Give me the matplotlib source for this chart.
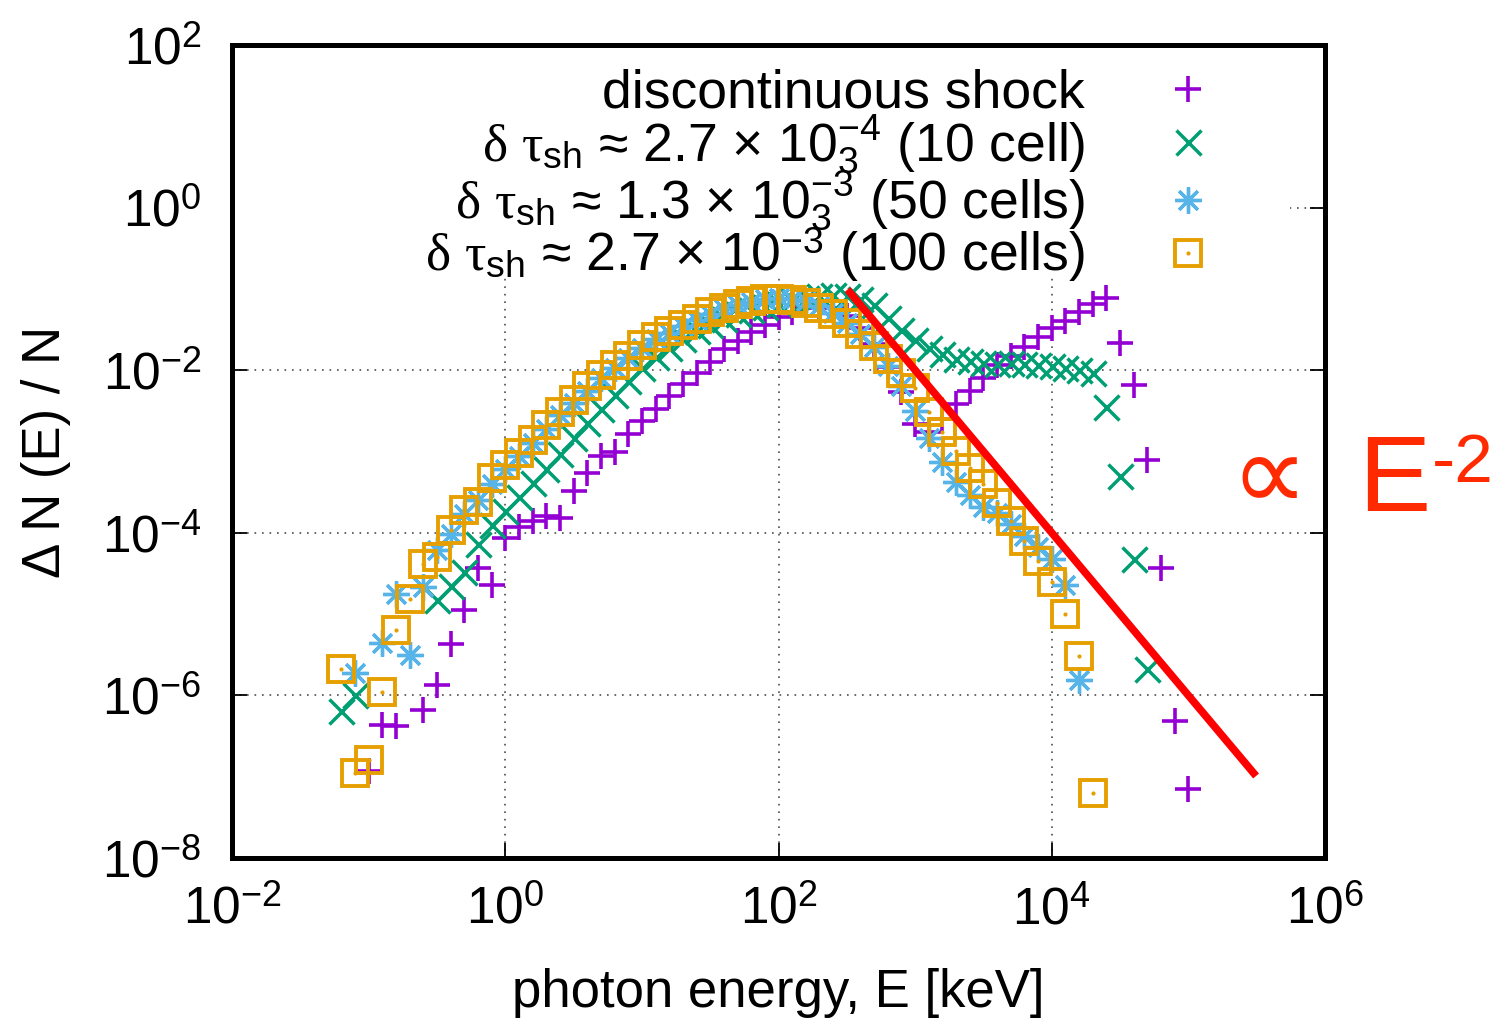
import numpy as np
import matplotlib
matplotlib.use('Agg')
import matplotlib.pyplot as plt
from matplotlib.legend_handler import HandlerTuple
from matplotlib.patches import Rectangle

plt.rcParams['font.family'] = ['Liberation Sans', 'DejaVu Sans']
plt.rcParams['mathtext.fontset'] = 'custom'
plt.rcParams['mathtext.rm'] = 'Liberation Sans'
plt.rcParams['mathtext.it'] = 'Liberation Serif'
plt.rcParams['mathtext.bf'] = 'Liberation Sans:bold'

# ---------------- data (log10 values) ----------------
log_E = [-1.2, -1.1, -1.0, -0.9, -0.8, -0.7, -0.6, -0.5, -0.4, -0.3, -0.2, -0.1,
         0.0, 0.1, 0.2, 0.3, 0.4, 0.5, 0.6, 0.7, 0.8, 0.9, 1.0, 1.1, 1.2, 1.3,
         1.4, 1.5, 1.6, 1.7, 1.8, 1.9, 2.0, 2.1, 2.2, 2.3, 2.4, 2.5, 2.6, 2.7,
         2.8, 2.9, 3.0, 3.1, 3.2, 3.3, 3.4, 3.5, 3.6, 3.7, 3.8, 3.9, 4.0, 4.1,
         4.2, 4.3, 4.4, 4.5, 4.6, 4.7, 4.8, 4.9, 5.0]

log_dN_discontinuous = [
    None, None, -6.93, -6.36, -6.38, None, -6.18, -5.87, -5.37, -4.95, -4.43, -4.64,
    -4.06, -3.93, -3.86, -3.79, -3.82, -3.48, -3.27, -3.06, -3.01, -2.78, -2.63, -2.48,
    -2.32, -2.17, -2.04, -1.90, -1.74, -1.64, -1.53, -1.44, -1.35, -1.28, -1.23, -1.21,
    -1.24, -1.33, -1.48, -1.68, -1.96, -2.27, -2.66, -2.76, -2.60, -2.41, -2.25, -2.10,
    -1.94, -1.82, -1.71, -1.59, -1.48, -1.40, -1.29, -1.18, -1.11, -1.67, -2.18, -3.11,
    -4.43, -6.31, -7.15]

log_dN_10cells = [
    -6.19, -6.00, None, None, None, None, None, -4.83, -4.65, -4.48, -4.14, -3.90,
    -3.73, -3.56, -3.39, -3.21, -3.03, -2.84, -2.65, -2.48, -2.30, -2.13, -1.97, -1.84,
    -1.73, -1.62, -1.52, -1.44, -1.37, -1.31, -1.26, -1.22, -1.18, -1.14, -1.11, -1.09,
    -1.07, -1.09, -1.13, -1.20, -1.36, -1.50, -1.63, -1.73, -1.80, -1.86, -1.89, -1.91,
    -1.92, -1.91, -1.92, -1.93, -1.95, -1.97, -2.00, -2.03, -2.45, -3.30, -4.32, -5.68,
    None, None, None]

log_dN_50cells = [
    None, -5.73, None, -5.35, -4.75, -5.50, -4.67, -4.21, -4.01, -3.77, -3.60, -3.40,
    -3.21, -3.06, -2.90, -2.72, -2.55, -2.40, -2.25, -2.10, -1.97, -1.85, -1.73, -1.62,
    -1.54, -1.46, -1.38, -1.31, -1.25, -1.20, -1.16, -1.13, -1.11, -1.12, -1.15, -1.21,
    -1.30, -1.42, -1.55, -1.72, -1.95, -2.20, -2.50, -2.83, -3.13, -3.37, -3.54, -3.68,
    -3.76, -3.89, -4.04, -4.17, -4.32, -4.64, -5.81, None, None, None, None, None,
    None, None, None]

log_dN_100cells = [
    -5.67, -6.96, -6.79, -5.96, -5.20, -4.81, -4.38, -4.30, -3.97, -3.72, -3.62, -3.33,
    -3.17, -3.02, -2.86, -2.67, -2.51, -2.37, -2.20, -2.06, -1.94, -1.82, -1.69, -1.59,
    -1.52, -1.44, -1.37, -1.29, -1.23, -1.19, -1.15, -1.13, -1.12, -1.14, -1.17, -1.23,
    -1.31, -1.42, -1.55, -1.70, -1.86, -2.03, -2.22, -2.51, -2.76, -2.99, -3.20, -3.40,
    -3.63, -3.85, -4.10, -4.35, -4.61, -5.00, -5.52, -7.20, None, None, None, None,
    None, None, None]

powerlaw_E = [3.2e2, 3.13e5]
powerlaw_N = [9.8e-2, 1.02e-7]

series_labels = [
    "discontinuous shock",
    r"$\delta\ \tau_{\mathrm{sh}}$ ≈ 2.7 × $10_{3}^{-4}$ (10 cell)",
    r"$\delta\ \tau_{\mathrm{sh}}$ ≈ 1.3 × $10_{3}^{-3}$ (50 cells)",
    r"$\delta\ \tau_{\mathrm{sh}}$ ≈ 2.7 × $10^{-3}$ (100 cells)",
]

x_ticks = [1e-2, 1e0, 1e2, 1e4, 1e6]
x_tick_labels = [r"$10^{-2}$", r"$10^{0}$", r"$10^{2}$", r"$10^{4}$", r"$10^{6}$"]
y_ticks = [1e-8, 1e-6, 1e-4, 1e-2, 1e0, 1e2]
y_tick_labels = [r"$10^{-8}$", r"$10^{-6}$", r"$10^{-4}$", r"$10^{-2}$", r"$10^{0}$", r"$10^{2}$"]

purple, green, blue, orange = '#9400D3', '#009E73', '#56B4E9', '#E69F00'


def to_lin(vals):
    return np.power(10.0, np.array([np.nan if v is None else v for v in vals], dtype=float))


E = np.power(10.0, np.array(log_E))

fig = plt.figure(figsize=(15.02, 10.23), dpi=100)
ax = fig.add_axes([0.15446, 0.16129, 0.72770, 0.79472])
ax.set_xscale('log')
ax.set_yscale('log')
ax.set_xlim(1e-2, 1e6)
ax.set_ylim(1e-8, 1e2)

ax.set_axisbelow(True)
ax.grid(True, which='major', color='0.3', linestyle=(0, (1, 3.5)), linewidth=1.2)

h1, = ax.plot(E, to_lin(log_dN_discontinuous), ls='none', marker='+', ms=19, mew=2.6,
              color=purple, zorder=2)
h2, = ax.plot(E, to_lin(log_dN_10cells), ls='none', marker='x', ms=18, mew=2.5,
              color=green, zorder=2.1)
h3, = ax.plot(E, to_lin(log_dN_50cells), ls='none', marker=(8, 2, 0), ms=19, mew=2.4,
              color=blue, zorder=2.2)
h4a, = ax.plot(E, to_lin(log_dN_100cells), ls='none', marker='s', ms=19, mew=2.8,
               mfc='none', mec=orange, color=orange, zorder=2.3)
h4b, = ax.plot(E, to_lin(log_dN_100cells), ls='none', marker='o', ms=3, mew=0,
               color=orange, zorder=2.3)

ax.plot(powerlaw_E, powerlaw_N, color='#ff0000', lw=5.5, solid_capstyle='butt', zorder=3)

# opaque key background (hides grid under the key)
ax.add_patch(Rectangle((0.0, 0.715), 0.968, 0.285, transform=ax.transAxes,
                       facecolor='white', edgecolor='none', zorder=1.5))

leg = ax.legend([h1, h2, h3, (h4a, h4b)], series_labels, loc='upper right',
                bbox_to_anchor=(0.8984, 0.971), bbox_transform=ax.transAxes,
                markerfirst=False, frameon=False, fontsize=38.5, handlelength=0.96,
                handletextpad=1.45, labelspacing=-0.12, borderpad=0, borderaxespad=0,
                handler_map={tuple: HandlerTuple(ndivide=1, pad=0)})
leg.set_zorder(5)

ax.set_xticks(x_ticks)
ax.set_xticklabels(x_tick_labels)
ax.set_yticks(y_ticks)
ax.set_yticklabels(y_tick_labels)
ax.xaxis.set_minor_locator(matplotlib.ticker.NullLocator())
ax.yaxis.set_minor_locator(matplotlib.ticker.NullLocator())
ax.tick_params(axis='both', which='major', direction='in', length=11, width=1.3,
               top=True, right=True, labelsize=37, color='black')
ax.tick_params(axis='x', pad=20)
ax.tick_params(axis='y', pad=22)

for s in ax.spines.values():
    s.set_linewidth(3.6)
    s.set_color('black')

ax.set_xlabel('photon energy, E [keV]', fontsize=38, labelpad=24)
ax.set_ylabel('Δ N (E) / N', fontsize=38, labelpad=22)

fig.text(1269 / 1502, 1 - 510 / 1023, '∝', fontsize=78, color='#ff2a00',
         ha='center', va='baseline', family=['DejaVu Sans'])
fig.text(1358 / 1502, 1 - 511 / 1023, 'E', fontsize=78, color='#ff2a00',
         ha='left', va='baseline')
fig.text(1432 / 1502, 1 - 482 / 1023, '-2', fontsize=50, color='#ff2a00',
         ha='left', va='baseline')

fig.savefig('out.png', dpi=100)
